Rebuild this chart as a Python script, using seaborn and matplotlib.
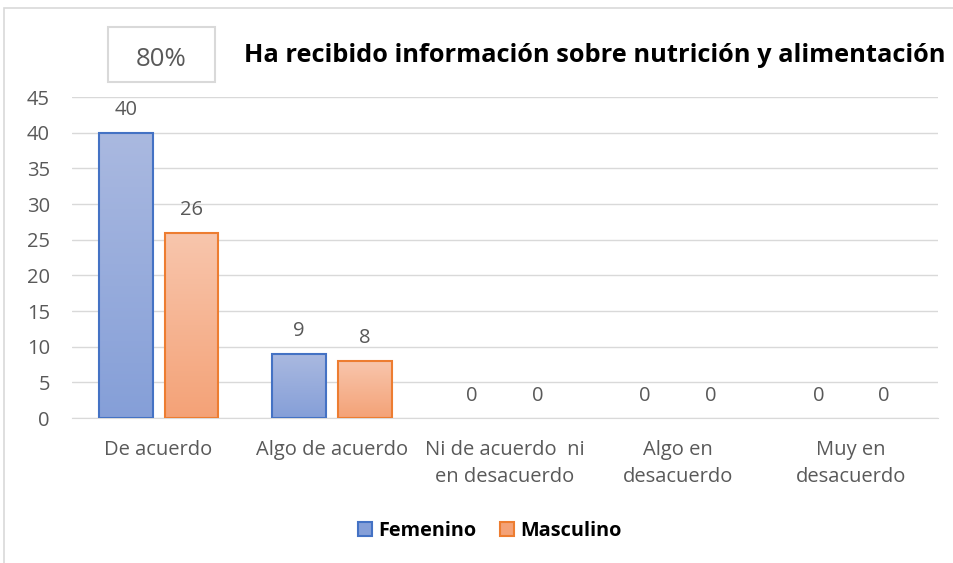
import numpy as np
import pandas as pd
import matplotlib
matplotlib.use("Agg")
import matplotlib.pyplot as plt
from matplotlib.patches import Rectangle, Patch
from matplotlib.colors import LinearSegmentedColormap
import seaborn as sns

categories = ["De acuerdo", "Algo de acuerdo", "Ni de acuerdo  ni\nen desacuerdo",
              "Algo en\ndesacuerdo", "Muy en\ndesacuerdo"]
femenino = [40, 9, 0, 0, 0]
masculino = [26, 8, 0, 0, 0]
series = ["Femenino", "Masculino"]
title = "Ha recibido información sobre nutrición y alimentación"
badge = "80%"
yticks = [0, 5, 10, 15, 20, 25, 30, 35, 40, 45]

df = pd.DataFrame({
    "cat": categories * 2,
    "val": femenino + masculino,
    "serie": [series[0]] * len(categories) + [series[1]] * len(categories),
})

sns.set_style("white")
plt.rcParams["font.family"] = ["Open Sans", "DejaVu Sans"]

edge_cols = {"Femenino": "#4472c4", "Masculino": "#ed7d31"}
grad = {"Femenino": ("#aab9e0", "#859fd8"), "Masculino": ("#f8c6ad", "#f4a277")}

fig = plt.figure(figsize=(9.54, 5.63), dpi=100)
ax = fig.add_axes([0.0755, 0.2575, 0.9075, 0.570])

sns.barplot(data=df, x="cat", y="val", hue="serie", order=categories,
            hue_order=series, palette=edge_cols, width=0.76, gap=0.18,
            ax=ax, legend=False, linewidth=1.5, zorder=3)

for cont, s in zip(ax.containers, series):
    c1, c2 = grad[s]
    cmap = LinearSegmentedColormap.from_list(s, [c2, c1])
    for p in cont.patches:
        p.set_facecolor("none")
        x0, y0 = p.get_x(), p.get_y()
        w, h = p.get_width(), p.get_height()
        if h > 0:
            p.set_edgecolor(edge_cols[s])
            img = ax.imshow(np.linspace(0, 1, 256).reshape(-1, 1), cmap=cmap,
                            origin="lower", aspect="auto",
                            extent=[x0, x0 + w, y0, y0 + h], zorder=2.5)
            img.set_clip_path(p)
        else:
            p.set_edgecolor("none")
    ax.bar_label(cont, padding=9, color="#595959", fontsize=14.5)

ax.set_xlim(-0.5, len(categories) - 0.5)
ax.set_ylim(0, 45)
ax.set_yticks(yticks)
ax.yaxis.grid(True, color="#d9d9d9", linewidth=1)
ax.set_axisbelow(True)
for sp in ["top", "right", "left"]:
    ax.spines[sp].set_visible(False)
ax.spines["bottom"].set_color("#d9d9d9")
ax.tick_params(axis="both", length=0, colors="#595959", labelsize=14.5)
ax.tick_params(axis="x", pad=16)
ax.tick_params(axis="y", pad=16)
for lbl in ax.get_xticklabels():
    lbl.set_linespacing(1.42)
ax.set_xlabel("")
ax.set_ylabel("")

# outer chart frame
fig.patches.append(Rectangle((4 / 954, -0.1), 1.2, 1 - 8 / 563 + 0.1,
                             transform=fig.transFigure, fill=False,
                             edgecolor="#d9d9d9", linewidth=1.2))
# badge box
fig.patches.append(Rectangle((108 / 954, 1 - 82 / 563), 107 / 954, 55 / 563,
                             transform=fig.transFigure, fill=False,
                             edgecolor="#d9d9d9", linewidth=1.5))
fig.text(161 / 954, 1 - 60 / 563, badge, ha="center", va="center",
         fontsize=18.5, color="#595959")
fig.text(595 / 954, 1 - 55 / 563, title, ha="center", va="center",
         fontsize=18.3, fontweight="bold", color="black")

handles = [Patch(facecolor=grad[s][1], edgecolor=edge_cols[s], linewidth=1.5)
           for s in series]
leg = fig.legend(handles, series, loc="center", bbox_to_anchor=(490 / 954, 32 / 563),
                 ncol=2, frameon=False, prop={"weight": "bold", "size": 14.3},
                 handlelength=0.7, handleheight=0.7, handletextpad=0.3,
                 columnspacing=1.2)
for t in leg.get_texts():
    t.set_color("black")

fig.savefig("out.png", dpi=100)
